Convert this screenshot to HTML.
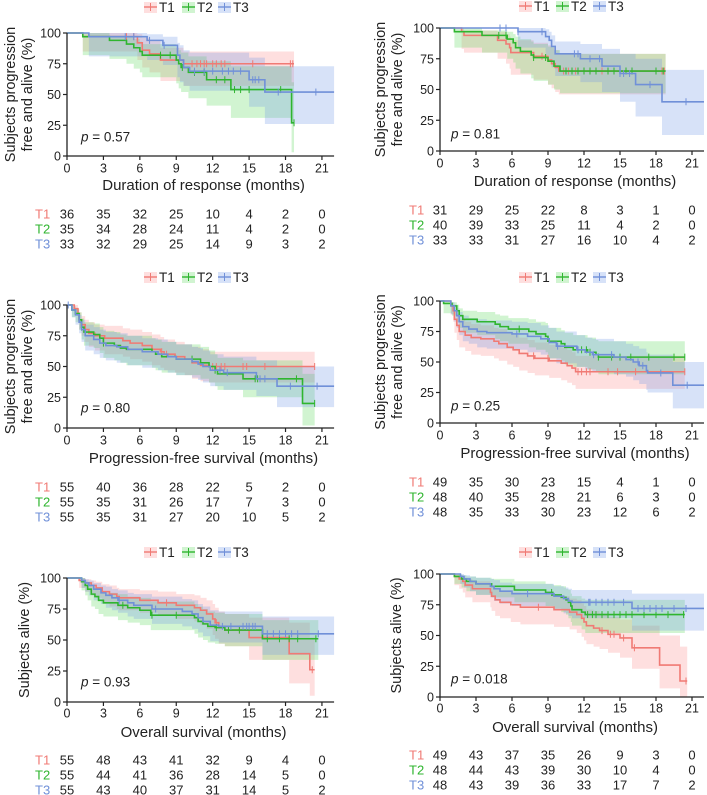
<!DOCTYPE html>
<html><head><meta charset="utf-8">
<style>
html,body{margin:0;padding:0;background:#fff;}
svg{display:block;font-family:"Liberation Sans",Arial,sans-serif;}
</style></head>
<body>
<svg id="fig" width="707" height="795" viewBox="0 0 707 795" xmlns="http://www.w3.org/2000/svg"></svg>
<script>
// ---- Data: steps [month, survival%, ciLow, ciHigh] ----
const A_T1=[[0,100,100,100],[1.3,97,85,100],[5.8,92,78,99],[6.2,86,72,96],[6.8,83,68,94],[7.7,78,61,88],[9.6,75,57,85]];
const A_T2=[[0,100,100,100],[1.3,97,82,100],[3.5,94,79,98],[4.9,91,75,97],[5.5,88,71,95],[6.0,85,68,93],[6.2,82,64,91],[9.0,78,59,88],[9.2,75,55,86],[9.4,72,52,84],[10.0,68,47,81],[11.5,62,41,77],[13.5,54,31,73],[18.5,27,3,60]];
const A_T3=[[0,100,100,100],[1.8,97,81,100],[6.6,94,78,99],[7.9,90,74,97],[9.1,82,64,92],[9.3,78,60,90],[9.6,72,57,86],[10.1,69,53,84],[15.0,62,40,80],[16.3,52,26,73]];
const A_end=[18.7,18.7,22];
const A_cens=[[4.9,5.5,10.3,10.7,11,11.3,11.5,12,12.3,12.7,13,15.3,18.4,18.6],[7.7,8.5,9.5,10.5,11.3,12.3,13,13.8,14.3,15,17.6,18.7],[4.8,5.5,6.8,8.0,10.5,11.3,12,12.8,13.3,13.7,14.3,15.3,15.5,15.8,17.4,20.5]];
const A_risk=[[36,35,32,25,10,4,2,0],[35,34,28,24,11,4,2,0],[33,32,29,25,14,9,3,2]];

const B_T1=[[0,100,100,100],[1.8,97,83,100],[2.0,94,80,98],[4.8,90,75,97],[5.5,87,71,95],[5.8,84,67,93],[5.9,80,62,90],[7.8,77,58,88],[9.0,74,54,86],[9.3,71,51,84],[9.6,68,48,82],[9.9,65,46,79]];
const B_T2=[[0,100,100,100],[1.2,97,84,100],[3.5,94,80,98],[5.6,91,75,97],[6.1,88,72,95],[6.3,84,67,93],[6.7,81,63,91],[7.6,78,59,89],[7.8,76,57,87],[9.0,73,54,85],[9.5,69,50,82],[10.0,65,47,79]];
const B_T3=[[0,100,100,100],[6.5,97,84,100],[8.8,93,78,99],[9.1,90,74,97],[9.3,85,68,94],[9.6,79,61,89],[11.7,75,56,87],[13.5,69,48,83],[15.0,63,40,79],[16.3,54,28,75],[18.5,40,13,66]];
const B_end=[18.8,18.8,22];
const B_cens=[[8.5,10.3,10.7,11,11.3,12.5,13,13.5,18.5,18.7],[4.9,5.5,7.8,8.8,10.5,11,11.5,12,12.5,13,14,14.5,15.5,16,18,18.6],[5.0,5.5,6.5,8.5,11.2,11.5,12.5,13.3,15,15.3,15.8,17.5,20.5]];
const B_risk=[[31,29,25,22,8,3,1,0],[40,39,33,25,11,4,2,0],[33,33,31,27,16,10,4,2]];

const C_T1=[[0,100,100,100],[0.6,97,92,100],[0.9,93,86,97],[1.0,88,80,94],[1.2,84,75,91],[1.5,80,70,88],[1.8,77,66,86],[2.3,75,63,84],[3.1,73,60,83],[4.6,71,58,81],[5.2,69,56,80],[6.2,67,54,78],[7.0,64,51,76],[7.7,62,49,74],[8.0,60,47,72],[8.9,58,45,70],[9.7,56,43,68],[10.3,53,40,66],[11.0,51,38,64],[11.7,50,37,62]];
const C_T2=[[0,100,100,100],[0.4,96,90,99],[0.7,93,86,97],[1.0,88,80,94],[1.2,82,72,89],[1.4,78,67,86],[2.2,76,65,85],[2.7,73,61,82],[3.0,69,57,79],[3.9,67,55,78],[4.4,65,53,76],[4.9,64,51,75],[7.0,62,49,73],[7.3,60,47,72],[7.8,58,45,70],[9.0,56,43,68],[11.0,53,40,66],[11.7,50,37,63],[12.2,47,34,60],[12.4,44,31,57],[14.5,40,25,55],[19.4,20,2,44]];
const C_T3=[[0,100,100,100],[0.4,96,90,99],[0.7,92,84,96],[1.0,86,77,92],[1.2,80,70,88],[1.5,75,63,84],[2.2,72,60,82],[2.7,69,57,80],[3.2,67,55,78],[4.1,66,53,77],[5.0,64,51,75],[6.2,62,49,73],[7.5,60,47,72],[8.3,58,45,70],[9.0,56,43,68],[10.3,54,41,66],[10.8,52,39,65],[11.2,50,37,63],[11.8,47,34,60],[12.9,45,31,58],[15.6,40,26,55],[17.3,34,17,50]];
const C_end=[20.4,20.4,22];
const C_cens=[[7.8,8.2,12,12.3,12.7,13,14.5,14.8,16.3,20.4],[1.2,3.0,10.3,12.2,15.5,15.7,18.9,20.4],[0.1,12.6,13.2,15.9,16.3,18.4,20.6]];
const C_risk=[[55,40,36,28,22,5,2,0],[55,35,31,26,17,7,3,0],[55,35,31,27,20,10,5,2]];

const D_T1=[[0,100,100,100],[0.9,96,89,99],[1.1,92,83,97],[1.2,85,74,92],[1.4,80,68,89],[1.6,75,62,85],[2.1,72,59,83],[2.6,70,56,81],[3.4,69,55,80],[4.5,67,53,78],[4.9,65,51,77],[5.6,62,48,74],[6.1,60,46,72],[6.6,57,43,70],[7.3,55,41,68],[7.9,53,39,66],[9.1,51,37,64],[10.1,49,35,62],[10.6,47,33,60],[11.0,45,31,58],[11.3,42,28,55]];
const D_T2=[[0,100,100,100],[0.3,98,90,100],[1.0,96,88,99],[1.4,92,83,97],[1.6,88,78,94],[1.9,85,74,92],[3.1,83,72,91],[4.6,81,69,89],[5.0,79,67,88],[5.7,77,65,86],[7.4,75,62,85],[8.0,73,60,83],[8.8,71,58,82],[9.0,67,53,78],[10.1,65,51,76],[10.4,62,48,74],[11.1,60,46,72],[12.3,58,44,70],[13.0,56,42,68],[13.2,54,40,67]];
const D_T3=[[0,100,100,100],[0.9,96,89,99],[1.2,92,83,97],[1.4,88,78,94],[1.6,83,72,91],[1.9,79,67,88],[2.4,77,65,86],[3.1,75,62,85],[3.9,74,61,84],[6.0,73,60,83],[7.3,71,58,82],[8.4,69,56,80],[9.1,66,53,78],[9.7,63,49,75],[11.4,60,46,72],[12.1,58,44,70],[12.7,56,42,69],[14.5,54,40,67],[15.5,52,38,65],[16.1,50,35,63],[16.6,47,32,61],[17.2,43,27,58],[17.3,41,25,56],[19.4,31,12,50]];
const D_end=[20.4,20.4,22];
const D_cens=[[7.8,9,11.5,11.8,12.2,12.5,14,14.8,16.3,20.4],[6.6,11.8,12.2,12.5,13.2,14.3,15,15.9,17.4,19.5,20.4],[6.4,9.8,11.5,12.8,14.3,16.5,16.9,18.4,20.6]];
const D_risk=[[49,35,30,23,15,4,1,0],[48,40,35,28,21,6,3,0],[48,35,33,30,23,12,6,2]];

const E_T1=[[0,100,100,100],[1.0,98,92,100],[1.5,96,89,99],[2.0,94,86,98],[2.4,92,84,97],[2.9,89,80,95],[3.5,87,77,94],[4.1,85,75,92],[4.3,84,74,91],[6.0,82,72,90],[7.5,80,70,89],[9.0,78,67,87],[10.5,76,65,86],[11.0,74,62,84],[11.5,71,59,82],[12.0,67,54,79],[12.2,64,51,76],[12.5,60,47,73],[13.0,58,45,71],[15.0,52,34,68],[18.3,39,15,64],[20.0,26,5,52]];
const E_T2=[[0,100,100,100],[1.2,97,90,100],[1.5,94,86,98],[1.7,91,82,96],[2.0,87,77,93],[2.3,85,75,92],[2.6,82,71,90],[3.0,80,69,88],[4.2,78,66,87],[5.0,76,64,85],[6.0,74,62,84],[6.9,70,58,81],[10.5,68,55,79],[10.8,65,52,77],[11.2,63,50,75],[11.6,61,48,73],[12.2,60,47,72],[13.0,58,45,71],[16.1,51,34,66]];
const E_T3=[[0,100,100,100],[1.2,98,92,100],[1.5,96,89,99],[1.8,94,86,98],[2.2,91,82,96],[2.8,88,79,94],[3.2,86,76,93],[3.7,84,74,91],[4.2,82,72,90],[5.0,80,69,88],[5.5,78,67,87],[7.0,75,63,85],[9.5,73,61,83],[10.3,71,59,82],[10.8,68,56,79],[11.2,65,53,77],[11.8,62,49,74],[12.5,61,48,73],[16.1,55,38,69]];
const E_end=[20.4,20.7,22];
const E_cens=[[8.2,12.3,13.3,14.2,20.2],[4.6,7.0,9.0,12.3,13.3,14.2,16.5,17.5,18.3,19,20.5],[4.3,7.3,12.8,13.5,14.5,14.8,15.0,15.3,15.5,16.5,17,17.5,18,18.5,19,20.7]];
const E_risk=[[55,48,43,41,32,9,4,0],[55,44,41,36,28,14,5,0],[55,43,40,37,31,14,5,2]];

const F_T1=[[0,100,100,100],[1.2,98,91,100],[1.6,96,88,99],[1.9,94,85,98],[2.1,91,81,96],[2.7,88,77,94],[4.2,85,73,92],[4.3,82,70,90],[4.6,79,66,88],[5.0,77,64,86],[5.9,75,61,85],[6.7,73,59,83],[9.5,71,57,82],[10.8,69,55,80],[11.4,67,52,79],[11.8,64,49,76],[12.0,61,46,74],[12.2,58,43,71],[12.8,56,41,70],[13.3,54,39,68],[14.0,51,36,65],[15.0,48,32,63],[16.0,40,23,58],[18.3,26,7,50],[20.0,13,0,41]];
const F_T2=[[0,100,100,100],[1.2,98,92,100],[1.8,96,89,99],[2.2,94,86,98],[3.0,92,83,97],[4.3,90,81,96],[6.2,87,77,94],[8.8,85,74,92],[9.4,83,72,91],[10.1,81,69,90],[10.5,79,67,88],[10.7,77,64,87],[10.9,74,61,84],[11.0,71,58,82],[11.8,69,55,80],[12.1,67,52,79]];
const F_T3=[[0,100,100,100],[1.7,98,92,100],[2.0,96,89,99],[2.5,94,86,98],[3.0,92,83,97],[4.2,90,81,96],[4.5,88,78,95],[5.0,86,76,93],[6.0,84,74,92],[9.5,82,71,90],[10.3,80,68,89],[10.7,78,66,88],[11.0,77,64,87],[16.0,72,54,84]];
const F_end=[20.6,20.4,22];
const F_cens=[[8.2,13.5,14.2,14.5,15.3,16.2,20.5],[9.3,12.3,12.7,13,13.5,14,14.5,15,15.5,16,17,18,19,20.3],[7.3,12.4,12.5,13,13.5,14,14.5,15.3,16.5,17,17.5,18,18.5,19.5,20.5]];
const F_risk=[[49,43,37,35,26,9,3,0],[48,44,43,39,30,10,4,0],[48,43,39,36,33,17,7,2]];

const tickMonths=[0,3,6,9,12,15,18,21];
const yTicks=[0,25,50,75,100];
const seriesNames=["T1","T2","T3"];
const pValues=["0.57","0.81","0.80","0.25","0.93","0.018"];
const xTitles=["Duration of response (months)","Duration of response (months)","Progression-free survival (months)","Progression-free survival (months)","Overall survival (months)","Overall survival (months)"];

// ---- Layout ----
const lineCol=["#f07a74","#2fb52f","#7090d8"];
const fillCol=["rgba(252,140,140,0.28)","rgba(90,215,90,0.28)","rgba(110,150,230,0.28)"];
const txtCol=["#f07a74","#2fb52f","#7090d8"];
const panels=[
 {id:"a",steps:[A_T1,A_T2,A_T3],end:A_end,cens:A_cens,risk:A_risk,x0:67,ppm:12.14,y100:33,y0:156,leg:7,legX:[144,182,218],lab:168,title:185,rows:[214,229,244],rl:35,yt:["Subjects progression","free and alive (%)"],ytx:[10,27],px:81,py:137},
 {id:"b",steps:[B_T1,B_T2,B_T3],end:B_end,cens:B_cens,risk:B_risk,x0:440,ppm:12.0,y100:28,y0:151,leg:6,legX:[519,556,593],lab:163,title:181,rows:[210,225,240],rl:409,yt:["Subjects progression","free and alive (%)"],ytx:[380,397],px:451,py:134},
 {id:"c",steps:[C_T1,C_T2,C_T3],end:C_end,cens:C_cens,risk:C_risk,x0:67,ppm:12.14,y100:305,y0:428,leg:277,legX:[144,182,218],lab:440,title:458,rows:[487,502,517],rl:35,yt:["Subjects progression","free and alive (%)"],ytx:[10,27],px:81,py:408},
 {id:"d",steps:[D_T1,D_T2,D_T3],end:D_end,cens:D_cens,risk:D_risk,x0:440,ppm:12.0,y100:301,y0:423,leg:277,legX:[519,556,593],lab:435,title:453,rows:[482,497,512],rl:409,yt:["Subjects progression","free and alive (%)"],ytx:[380,397],px:451,py:406},
 {id:"e",steps:[E_T1,E_T2,E_T3],end:E_end,cens:E_cens,risk:E_risk,x0:67,ppm:12.14,y100:578,y0:702,leg:552,legX:[144,182,218],lab:713,title:732,rows:[760,775,790],rl:35,yt:["Subjects alive (%)"],ytx:[24],px:81,py:682},
 {id:"f",steps:[F_T1,F_T2,F_T3],end:F_end,cens:F_cens,risk:F_risk,x0:440,ppm:12.0,y100:574,y0:697,leg:552,legX:[519,556,593],lab:708,title:727,rows:[755,770,785],rl:409,yt:["Subjects alive (%)"],ytx:[396],px:451,py:679}
];
const NS="http://www.w3.org/2000/svg";
const svg=document.getElementById("fig");
function mk(tag,attrs,parent,text){const e=document.createElementNS(NS,tag);for(const k in attrs)e.setAttribute(k,attrs[k]);if(text!==undefined)e.textContent=text;(parent||svg).appendChild(e);return e;}

panels.forEach((p,pi)=>{
  const g=mk("g",{});
  
  
  const X=t=>p.x0+t*p.ppm;
  const Y=v=>p.y0-(v/100)*(p.y0-p.y100);
  const xEnd=X(22);
  p.steps.forEach((st,si)=>{
    const end=p.end[si];
    let up="",lo=[];
    st.forEach((s,i)=>{const t2=i<st.length-1?st[i+1][0]:end;
      up+=(i?"L":"M")+X(s[0])+","+Y(s[3])+"L"+X(t2)+","+Y(s[3]);
      lo.push("L"+X(t2)+","+Y(s[2])+"L"+X(s[0])+","+Y(s[2]));});
    const band=mk("path",{d:up+lo.reverse().join("")+"Z",fill:fillCol[si],stroke:"none"},g);
    
    
  });
  p.steps.forEach((st,si)=>{
    const end=p.end[si];let d="";
    st.forEach((s,i)=>{const t2=i<st.length-1?st[i+1][0]:end;
      d+=(i?"L":"M")+X(s[0])+","+Y(s[1])+"L"+X(t2)+","+Y(s[1]);});
    const c=mk("path",{d:d,fill:"none",stroke:lineCol[si],"stroke-width":1.6},g);
    
    
    p.cens[si].forEach(t=>{let v=st[0][1];st.forEach(s=>{if(s[0]<=t)v=s[1];});
      const m=mk("line",{x1:X(t),x2:X(t),y1:Y(v)-3.5,y2:Y(v)+3.5,stroke:lineCol[si],"stroke-width":1},g);
      
      
    });
  });
  const ax=mk("path",{d:`M${p.x0},${p.y100}L${p.x0},${p.y0}L${xEnd},${p.y0}`,fill:"none",stroke:"#222","stroke-width":1.3},g);
  
  
  yTicks.forEach(v=>{
    mk("line",{x1:p.x0-4,x2:p.x0,y1:Y(v),y2:Y(v),stroke:"#222","stroke-width":1.2},g);
    const t=mk("text",{x:p.x0-6,y:Y(v)+4.5,"text-anchor":"end","font-size":12.5,fill:"#222"},g,String(v));
    
    
  });
  tickMonths.forEach((m,k)=>{
    mk("line",{x1:X(m),x2:X(m),y1:p.y0,y2:p.y0+4,stroke:"#222","stroke-width":1.2},g);
    const t=mk("text",{x:X(m),y:p.lab+4.5,"text-anchor":"middle","font-size":12.5,fill:"#222"},g,String(m));
    
    
  });
  const xt=mk("text",{x:(p.x0+xEnd)/2+3,y:p.title+5,"text-anchor":"middle","font-size":15,fill:"#222"},g,xTitles[pi]);
  
  
  const cy=(p.y100+p.y0)/2;
  p.yt.forEach((line,li)=>{
    const t=mk("text",{x:0,y:0,transform:`translate(${p.ytx[li]+5},${cy}) rotate(-90)`,"text-anchor":"middle","font-size":14.5,fill:"#222"},g,line);
    
    
  });
  const pt=mk("text",{x:p.px,y:p.py+4.5,"font-size":13.5,fill:"#222"},g);
  
  
  mk("tspan",{"font-style":"italic"},pt,"p");
  mk("tspan",{},pt," = "+pValues[pi]);
  seriesNames.forEach((n,si)=>{
    const lx=p.legX[si];
    const lg=mk("g",{},g);
    
    
    mk("rect",{x:lx,y:p.leg-5,width:13,height:11,fill:fillCol[si]},lg);
    mk("line",{x1:lx,x2:lx+13,y1:p.leg,y2:p.leg,stroke:lineCol[si],"stroke-width":1.4},lg);
    mk("line",{x1:lx+6.5,x2:lx+6.5,y1:p.leg-4,y2:p.leg+4,stroke:lineCol[si],"stroke-width":1},lg);
    mk("text",{x:lx+15,y:p.leg+5,"font-size":13.5,fill:"#222"},lg,n);
  });
  p.risk.forEach((row,si)=>{
    const y=p.rows[si]+4.5;
    const l=mk("text",{x:p.rl,y:y,"font-size":13,fill:txtCol[si]},g,seriesNames[si]);
    
    
    row.forEach((v,k)=>{
      const t=mk("text",{x:X(tickMonths[k]),y:y,"text-anchor":"middle","font-size":13,fill:"#222"},g,String(v));
      
      
    });
  });
});
</script>
</body></html>
